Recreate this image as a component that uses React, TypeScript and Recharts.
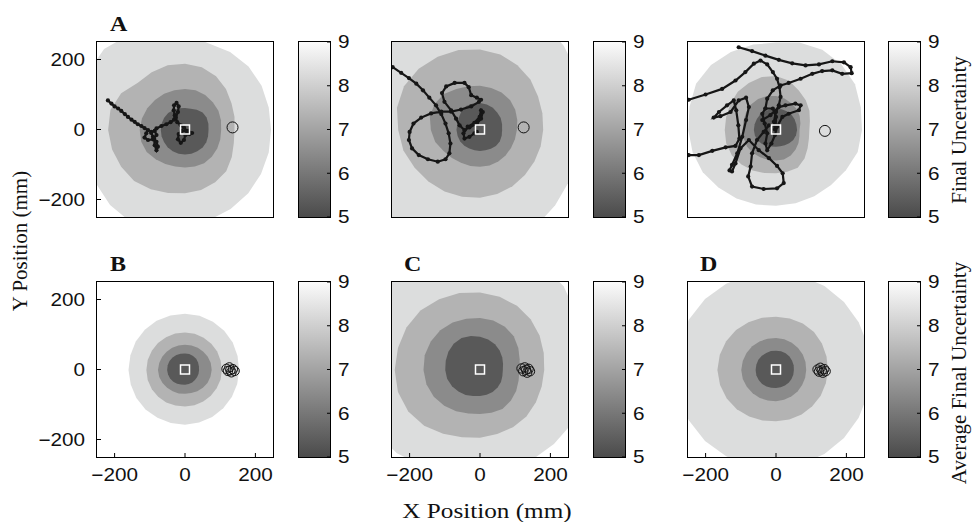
import React from "react";
import {
  ScatterChart,
  Scatter,
  XAxis,
  YAxis,
  RadarChart,
  Radar,
  PolarAngleAxis,
  PolarRadiusAxis,
  BarChart,
  Bar,
} from "recharts";

// ── Data ──────────────────────────────────────────────────────────────────────
// contour boundaries: radius (mm) from the target at each angle (deg, ccw from +x)
const ANGLES = [0, 15, 30, 45, 60, 75, 90, 105, 120, 135, 150, 165, 180, 195, 210, 225, 240, 255, 270, 285, 300, 315, 330, 345];

// top left (A)
const A_R1 = [245, 247, 252, 256, 257, 256, 275, 295, 315, 326, 322, 312, 302, 296, 296, 302, 305, 295, 280, 266, 260, 255, 250, 247];
const A_R2 = [141, 146, 153, 165, 177, 185, 189, 191, 190, 190, 210, 220, 219, 215, 210, 205, 195, 186, 180, 177, 172, 166, 154, 144];
const A_R3 = [103, 106, 110, 112, 115, 117, 117, 117, 119, 121, 124, 127, 129, 129, 126, 118, 112, 108, 107, 108, 109, 108, 106, 104];
const A_R4 = [67, 69, 71, 71, 67, 63, 63, 64, 66, 68, 69, 69, 69, 69, 69, 70, 70, 70, 70, 70, 70, 71, 70, 68];

// top middle
const M_R1 = [300, 310, 322, 338, 360, 380, 380, 380, 380, 380, 380, 380, 380, 380, 380, 380, 380, 380, 380, 340, 318, 303, 293, 295];
const M_R2 = [180, 184, 191, 203, 213, 223, 229, 236, 241, 247, 250, 245, 233, 226, 215, 208, 202, 197, 193, 189, 185, 181, 179, 179];
const M_R3 = [105, 110, 116, 121, 123, 124, 126, 129, 135, 145, 149, 148, 140, 132, 120, 113, 108, 106, 105, 105, 104, 103, 102, 103];
const M_R4 = [63, 65, 68, 70, 73, 75, 77, 78, 79, 75, 70, 67, 67, 66, 65, 63, 61, 60, 60, 60, 62, 64, 65, 64];

// top right
const R_R1 = [245, 250, 260, 264, 264, 258, 249, 252, 257, 262, 263, 255, 250, 246, 241, 232, 225, 220, 216, 216, 218, 222, 230, 241];
const R_R2 = [95, 100, 110, 120, 130, 145, 154, 156, 155, 154, 150, 147, 146, 147, 145, 139, 133, 127, 123, 123, 124, 115, 104, 97];
const R_R3 = [67, 72, 78, 84, 88, 93, 97, 100, 102, 102, 99, 96, 95, 95, 95, 93, 90, 88, 87, 87, 84, 79, 74, 69];
const R_R4 = [60, 60, 61, 62, 62, 61, 60, 61, 62, 63, 63, 63, 63, 62, 60, 56, 52, 49, 48, 48, 50, 53, 57, 59];

// B
const B_R1 = [154, 155, 157, 158, 159, 160, 160, 161, 162, 162, 162, 161, 161, 160, 160, 159, 157, 156, 156, 155, 155, 154, 154, 154];
const B_R2 = [105, 105, 106, 106, 106, 107, 107, 108, 108, 109, 109, 110, 110, 110, 109, 108, 107, 105, 104, 104, 104, 104, 104, 105];
const B_R3 = [76, 76, 75, 74, 73, 72, 72, 72, 73, 74, 75, 76, 77, 76, 74, 72, 70, 69, 68, 68, 70, 72, 74, 75];
const B_R4 = [40, 41, 43, 45, 46, 47, 47, 48, 49, 50, 51, 51, 51, 50, 49, 47, 45, 43, 42, 41, 41, 40, 40, 40];

// C
const C_R1 = [300, 310, 318, 337, 350, 370, 380, 380, 380, 380, 380, 380, 380, 370, 350, 335, 318, 305, 300, 297, 296, 298, 303, 300];
const C_R2 = [183, 188, 196, 204, 211, 216, 221, 227, 233, 240, 242, 242, 243, 242, 236, 225, 210, 198, 193, 189, 188, 187, 184, 182];
const C_R3 = [112, 117, 126, 136, 142, 146, 148, 151, 156, 160, 162, 163, 161, 158, 152, 144, 136, 128, 125, 126, 128, 124, 119, 114];
const C_R4 = [65, 68, 73, 79, 85, 90, 95, 100, 105, 106, 104, 101, 99, 97, 92, 87, 82, 77, 74, 73, 72, 71, 69, 66];

// D
const D_R1 = [270, 271, 272, 274, 276, 278, 280, 282, 284, 286, 287, 288, 288, 288, 287, 286, 284, 282, 280, 278, 276, 274, 272, 271];
const D_R2 = [148, 149, 151, 153, 153, 152, 152, 154, 157, 161, 164, 166, 167, 165, 162, 158, 153, 149, 146, 146, 146, 146, 147, 147];
const D_R3 = [86, 87, 88, 89, 90, 91, 91, 92, 94, 96, 97, 98, 99, 98, 96, 94, 92, 90, 89, 88, 87, 87, 86, 86];
const D_R4 = [51, 52, 53, 54, 55, 55, 55, 56, 56, 57, 58, 58, 58, 58, 57, 56, 54, 52, 51, 51, 51, 51, 51, 51];

// trajectories (x, y in mm)
const PATH_A: [number, number][] = [
  [-219, 83], [-209, 74], [-200, 66], [-190, 60], [-181, 53], [-171, 44], [-162, 36], [-152, 28], [-143, 22], [-134, 15],
  [-124, 10], [-115, 4], [-105, -2], [-110, -11], [-115, -23], [-105, -30], [-91, -28], [-81, -16], [-86, -4], [-96, -7],
  [-91, -21], [-81, -35], [-77, -49], [-81, -59], [-86, -45], [-88, -26], [-96, -10], [-81, 3], [-67, 10], [-53, 15],
  [-41, 21], [-31, 28], [-29, 41], [-32, 55], [-31, 69], [-24, 76], [-18, 66], [-20, 50], [-26, 34], [-22, 21],
  [-12, 12], [-3, 6], [4, -4], [-9, -4], [-18, -13], [-20, -28], [-12, -38], [-3, -30], [1, -16], [13, -13], [20, -10], [9, -4],
];

const PATH_M: [number, number][] = [
  [-248, 178], [-224, 162], [-202, 147], [-181, 131], [-162, 112], [-144, 91], [-125, 69], [-110, 44], [-98, 17], [-89, -11],
  [-84, -40], [-87, -68], [-98, -85], [-120, -92], [-148, -85], [-174, -73], [-193, -54], [-202, -30], [-200, -7], [-189, 17],
  [-167, 34], [-139, 46], [-110, 51], [-82, 51], [-54, 57], [-25, 66], [-3, 79], [3, 85], [-9, 91], [-25, 98],
  [-32, 121], [-44, 133], [-72, 133], [-96, 123], [-108, 104], [-101, 79], [-82, 55], [-68, 31], [-58, 12], [-44, -2],
  [-30, 6], [-9, 17], [3, 31], [8, 50], [3, 55], [-1, 36], [-16, 19], [-35, 8], [-47, -11], [-44, -26], [-30, -21], [-16, -11], [-9, -7],
];

const PATH_R1: [number, number][] = [
  [-106, 235], [-68, 224], [-30, 211], [8, 199], [46, 189], [84, 183], [122, 186], [160, 195], [193, 192], [212, 178],
  [215, 161], [188, 159], [160, 169], [131, 167], [103, 159], [70, 145], [36, 133], [13, 126], [-9, 112], [-25, 88], [-30, 60],
];
const PATH_R2: [number, number][] = [
  [-248, 85], [-200, 100], [-153, 116], [-115, 140], [-87, 164], [-63, 188], [-44, 197], [-25, 186], [-9, 164], [3, 145],
  [10, 121], [13, 93], [8, 69], [0, 50], [-6, 22], [-3, 0],
];
const PATH_R3: [number, number][] = [
  [-248, -73], [-219, -73], [-181, -61], [-143, -51], [-115, -47], [-104, -26], [-107, 12], [-113, 55], [-120, 83], [-139, 69],
  [-162, 50], [-177, 34], [-158, 38], [-129, 50], [-106, 83], [-85, 91], [-77, 64], [-85, 27], [-96, -21], [-110, -68],
  [-125, -101], [-132, -117], [-125, -120], [-115, -97], [-101, -54], [-77, -30], [-49, -59], [-20, -82], [3, -104], [19, -125],
  [22, -153], [3, -168], [-35, -170], [-68, -163], [-79, -134], [-72, -106], [-68, -68], [-54, -30], [-35, -7], [-20, 12],
];
const PATH_R4: [number, number][] = [
  [-39, 27], [-16, 41], [8, 64], [27, 69], [55, 74], [70, 69], [65, 55], [36, 45], [18, 36], [3, 8],
  [-3, -16], [-13, -40], [-25, -59], [-30, -40], [-25, -11], [-32, 17], [-39, 45], [-30, 60], [-9, 60], [0, 36], [-1, 8],
];

// end points (open circles)
const END_A: [number, number][] = [[135, 6]];
const END_M: [number, number][] = [[124, 6]];
const END_R: [number, number][] = [[139, -4]];
const END_B: [number, number][] = [[118, 2], [122, -4], [126, 6], [129, -2], [132, -8], [136, 1], [141, -4]];
const END_C: [number, number][] = [[118, 3], [123, -5], [127, 6], [131, -1], [134, -9], [138, 2], [142, -5]];
const END_D: [number, number][] = [[118, 0], [122, -6], [126, 5], [130, -3], [133, -9], [137, 1], [141, -5]];

const TARGET: [number, number][] = [[0, 0]];

const POS_TICKS = [-200, 0, 200];
const CB_TICKS = [5, 6, 7, 8, 9];
const CB_DATA = [{ name: "u", range: [5, 9] }];

// ── Layout / style ────────────────────────────────────────────────────────────
const LEVEL_FILLS = ["#dcdddd", "#b3b3b3", "#8b8b8b", "#595959"];
const COLS = [97, 392, 688];
const CB_COLS = [299, 594, 889];
const ROWS = [42, 282];
const BOX_W = 176;
const BOX_H = 175;
const CB_W = 31;
const PX_PER_MM = 0.351;
const SANS = '"Liberation Sans", Arial, Helvetica, sans-serif';
const SERIF = '"Liberation Serif", "Times New Roman", serif';
const INK = "#161616";

const PANELS = [
  { col: 0, row: 0, levels: [A_R1, A_R2, A_R3, A_R4], paths: [PATH_A], ends: END_A, ring: 5.5, showX: false, showY: true },
  { col: 1, row: 0, levels: [M_R1, M_R2, M_R3, M_R4], paths: [PATH_M], ends: END_M, ring: 5.5, showX: false, showY: false },
  { col: 2, row: 0, levels: [R_R1, R_R2, R_R3, R_R4], paths: [PATH_R1, PATH_R2, PATH_R3, PATH_R4], ends: END_R, ring: 5.5, showX: false, showY: false },
  { col: 0, row: 1, levels: [B_R1, B_R2, B_R3, B_R4], paths: [], ends: END_B, ring: 4.7, showX: true, showY: true },
  { col: 1, row: 1, levels: [C_R1, C_R2, C_R3, C_R4], paths: [], ends: END_C, ring: 4.7, showX: true, showY: false },
  { col: 2, row: 1, levels: [D_R1, D_R2, D_R3, D_R4], paths: [], ends: END_D, ring: 4.7, showX: true, showY: false },
];

const toPoints = (pairs: [number, number][]) => pairs.map(([x, y]) => ({ x, y }));

// ── Ticks ─────────────────────────────────────────────────────────────────────
function NumTick(props: any) {
  const { x, y, payload, side } = props;
  const v = payload.value;
  const label = v < 0 ? "\u2212" + Math.abs(v) : String(v);
  let anchor = "middle";
  let dy = 13;
  if (side === "left") {
    anchor = "end";
    dy = 6.4;
  } else if (side === "right") {
    anchor = "start";
    dy = 6.4;
  }
  return (
    <text
      transform={`translate(${x},${y + dy}) scale(1.15,1)`}
      textAnchor={anchor}
      fontFamily={SANS}
      fontSize={18}
      fill="#111"
    >
      {label}
    </text>
  );
}

const trailDot = (p: any) => <circle cx={p.cx} cy={p.cy} r={2.1} fill={INK} />;
const targetShape = (p: any) => (
  <rect x={p.cx - 4.5} y={p.cy - 4.5} width={9} height={9} fill="none" stroke="#fff" strokeWidth={1.5} />
);

const tickStroke = { stroke: "#000", strokeWidth: 1 };

// black box drawn over a plot or colour bar
function Frame({ left, top, width, height }: any) {
  return (
    <div
      style={{
        position: "absolute",
        left: left - 0.6,
        top: top - 0.6,
        width: width + 1.2,
        height: height + 1.2,
        boxSizing: "border-box",
        border: "1.3px solid #000",
        pointerEvents: "none",
      }}
    />
  );
}

// ── Contours (filled, drawn as polar polygons) ────────────────────────────────
function Contours({ levels, left, top }: any) {
  const data = ANGLES.map((a, i) => ({
    angle: a,
    l1: levels[0][i],
    l2: levels[1][i],
    l3: levels[2][i],
    l4: levels[3][i],
  }));
  return (
    <div style={{ position: "absolute", left, top, width: BOX_W, height: BOX_H, overflow: "hidden", background: "#fff" }}>
      <div style={{ position: "absolute", left: BOX_W / 2 - 150, top: BOX_H / 2 - 150 }}>
        <RadarChart
          width={300}
          height={300}
          cx={150}
          cy={150}
          outerRadius={400 * PX_PER_MM}
          data={data}
          startAngle={0}
          endAngle={360}
          margin={{ top: 0, right: 0, bottom: 0, left: 0 }}
        >
          <PolarAngleAxis dataKey="angle" type="number" domain={[0, 360]} tick={false} tickLine={false} axisLine={false} />
          <PolarRadiusAxis type="number" domain={[0, 400]} tick={false} axisLine={false} />
          {["l1", "l2", "l3", "l4"].map((k, i) => (
            <Radar
              key={k}
              dataKey={k}
              fill={LEVEL_FILLS[i]}
              fillOpacity={1}
              stroke="none"
              dot={false}
              isAnimationActive={false}
            />
          ))}
        </RadarChart>
      </div>
    </div>
  );
}

// ── One position panel ────────────────────────────────────────────────────────
function Panel({ p }: any) {
  const left = COLS[p.col];
  const top = ROWS[p.row];
  return (
    <>
      <Contours levels={p.levels} left={left} top={top} />
      <div style={{ position: "absolute", left: left - 60, top: top - 10 }}>
        <ScatterChart width={60 + BOX_W + 10} height={10 + BOX_H + 40} margin={{ top: 10, right: 10, bottom: 0, left: 0 }}>
          <XAxis
            type="number"
            dataKey="x"
            domain={[-250, 250]}
            allowDataOverflow
            ticks={POS_TICKS}
            height={40}
            tickSize={-4}
            tickMargin={15}
            axisLine={false}
            tickLine={tickStroke}
            tick={p.showX ? <NumTick side="bottom" /> : false}
          />
          <YAxis
            type="number"
            dataKey="y"
            domain={[-250, 250]}
            allowDataOverflow
            ticks={POS_TICKS}
            width={60}
            tickSize={-4}
            tickMargin={16}
            axisLine={false}
            tickLine={tickStroke}
            tick={p.showY ? <NumTick side="left" /> : false}
          />
          {p.paths.map((path: [number, number][], i: number) => (
            <Scatter
              key={"path" + i}
              data={toPoints(path)}
              line={{ stroke: INK, strokeWidth: 2.2 }}
              shape={trailDot}
              isAnimationActive={false}
            />
          ))}
          <Scatter
            data={toPoints(p.ends)}
            shape={(s: any) => <circle cx={s.cx} cy={s.cy} r={p.ring} fill="none" stroke="#111" strokeWidth={1} />}
            isAnimationActive={false}
          />
          <Scatter data={toPoints(TARGET)} shape={targetShape} isAnimationActive={false} />
        </ScatterChart>
      </div>
      <Frame left={left} top={top} width={BOX_W} height={BOX_H} />
    </>
  );
}

// ── Colour bar ────────────────────────────────────────────────────────────────
function Colorbar({ left, top, id }: any) {
  return (
    <>
      <div style={{ position: "absolute", left, top: top - 10 }}>
        <BarChart
          width={CB_W + 40}
          height={BOX_H + 20}
          data={CB_DATA}
          margin={{ top: 10, right: 0, bottom: 10, left: 0 }}
          barCategoryGap={0}
        >
          <defs>
            <linearGradient id={id} x1="0" y1="0" x2="0" y2="1">
              <stop offset="0" stopColor="#fbfbfb" />
              <stop offset="1" stopColor="#4b4b4b" />
            </linearGradient>
          </defs>
          <XAxis dataKey="name" height={0} tick={false} tickLine={false} axisLine={false} />
          <YAxis
            orientation="right"
            type="number"
            domain={[5, 9]}
            ticks={CB_TICKS}
            width={40}
            tickSize={-3}
            tickMargin={11}
            axisLine={false}
            tickLine={tickStroke}
            tick={<NumTick side="right" />}
          />
          <Bar dataKey="range" fill={`url(#${id})`} isAnimationActive={false} />
        </BarChart>
      </div>
      <Frame left={left} top={top} width={CB_W} height={BOX_H} />
    </>
  );
}

// ── Figure ────────────────────────────────────────────────────────────────────
export default function App() {
  return (
    <div style={{ position: "absolute", left: 0, top: 0, width: 972, height: 522, background: "#fff", overflow: "hidden" }}>
      {PANELS.map((p, i) => (
        <Panel key={i} p={p} />
      ))}
      {ROWS.map((top, r) =>
        CB_COLS.map((left, c) => <Colorbar key={r + "-" + c} left={left} top={top} id={`cbgrad${r}${c}`} />)
      )}
      <svg width={972} height={522} style={{ position: "absolute", left: 0, top: 0, pointerEvents: "none" }}>
        <g fontFamily={SERIF} fontWeight="bold" fontSize={20} fill="#111">
          <text transform="translate(110,31) scale(1.2,1)">A</text>
          <text transform="translate(110,271) scale(1.2,1)">B</text>
          <text transform="translate(404,271) scale(1.2,1)">C</text>
          <text transform="translate(700,271) scale(1.2,1)">D</text>
        </g>
        <g fontFamily={SERIF} fontSize={21} fill="#111" textAnchor="middle">
          <text transform="translate(487,518) scale(1.2,1)">X Position (mm)</text>
          <text transform="translate(27,241) rotate(-90)">Y Position (mm)</text>
          <text transform="translate(966,130) rotate(-90)">Final Uncertainty</text>
          <text transform="translate(966,373) rotate(-90)">Average Final Uncertainty</text>
        </g>
      </svg>
    </div>
  );
}
